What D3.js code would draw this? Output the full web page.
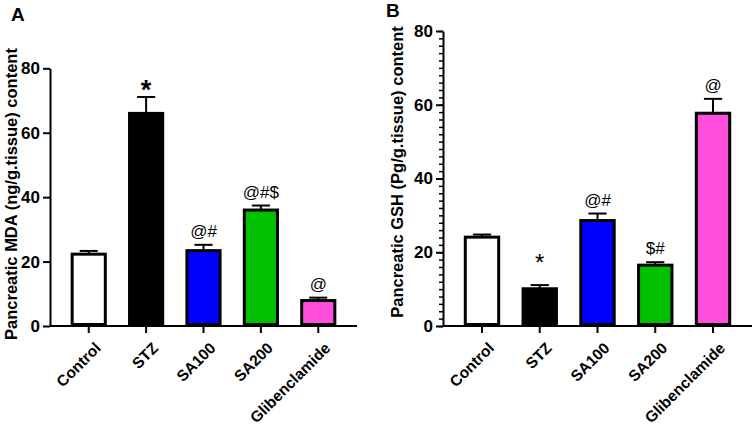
<!DOCTYPE html>
<html>
<head>
<meta charset="utf-8">
<script src="https://cdn.jsdelivr.net/npm/d3@7"></script>
<style>
  body { margin: 0; background: #fff; }
  svg { display: block; font-family: "Liberation Sans", Arial, sans-serif; }
</style>
</head>
<body>
<svg id="chart" width="754" height="426"></svg>
<script>
// groups shared by both panels
var groups = ["Control", "STZ", "SA100", "SA200", "Glibenclamide"];
var barColors = ["#ffffff", "#000000", "#0000ff", "#00c000", "#ff4fdc"];
var yTicks = [0, 20, 40, 60, 80];

// panel A: MDA
var mdaMean = [22.3, 66.0, 23.4, 36.0, 7.9];
var mdaSem = [1.0, 5.1, 1.8, 1.4, 0.9];
var mdaMarks = ["", "*", "@#", "@#$", "@"];

// panel B: GSH
var gshMean = [24.1, 10.1, 28.6, 16.5, 57.7];
var gshSem = [0.7, 1.0, 1.9, 0.8, 3.9];
var gshMarks = ["", "*", "@#", "$#", "@"];

var svg = d3.select("#chart");

function drawPanel(cfg) {
  var g = svg.append("g");

  var x = d3.scaleBand()
    .domain(groups)
    .range([cfg.left, cfg.right])
    .paddingInner(0.37)
    .paddingOuter(0.36);

  var y = d3.scaleLinear()
    .domain([0, 80])
    .range([cfg.bottom, cfg.top]);

  var rows = groups.map(function (d, i) {
    return { label: d, mean: cfg.mean[i], sem: cfg.sem[i], mark: cfg.marks[i], color: barColors[i] };
  });

  // error bars (upper only) drawn under the bar outline
  var err = g.append("g").attr("stroke", "#000").attr("stroke-width", 2);
  err.selectAll("line.stem")
    .data(rows)
    .join("line")
    .attr("x1", function (d) { return x(d.label) + x.bandwidth() / 2; })
    .attr("x2", function (d) { return x(d.label) + x.bandwidth() / 2; })
    .attr("y1", function (d) { return y(d.mean); })
    .attr("y2", function (d) { return y(d.mean + d.sem); });
  err.selectAll("line.cap")
    .data(rows)
    .join("line")
    .attr("x1", function (d) { return x(d.label) + x.bandwidth() * 0.25; })
    .attr("x2", function (d) { return x(d.label) + x.bandwidth() * 0.75; })
    .attr("y1", function (d) { return y(d.mean + d.sem); })
    .attr("y2", function (d) { return y(d.mean + d.sem); });

  // bars
  g.append("g")
    .selectAll("rect")
    .data(rows)
    .join("rect")
    .attr("x", function (d) { return x(d.label) + 1.5; })
    .attr("y", function (d) { return y(d.mean); })
    .attr("width", x.bandwidth() - 3)
    .attr("height", function (d) { return y(0) - y(d.mean) - 1.5; })
    .attr("fill", function (d) { return d.color; })
    .attr("stroke", "#000")
    .attr("stroke-width", 3);

  // significance marks; the asterisk glyph sits high, so push it down
  var isStar = function (d) { return d.mark === "*"; };
  g.append("g")
    .selectAll("text")
    .data(rows)
    .join("text")
    .attr("x", function (d) { return x(d.label) + x.bandwidth() / 2; })
    .attr("y", function (d) { return y(d.mean + d.sem) - 8; })
    .attr("text-anchor", "middle")
    .attr("font-size", function (d) { return isStar(d) ? (cfg.boldStar ? 27 : 24) : 17; })
    .attr("font-weight", function (d) { return isStar(d) && cfg.boldStar ? "bold" : "normal"; })
    .attr("dy", function (d) { return isStar(d) ? (cfg.boldStar ? 10 : -6) : 0; })
    .text(function (d) { return d.mark; });

  // minor ticks on y axis (panel B only)
  if (cfg.minor) {
    g.append("g")
      .attr("transform", "translate(" + cfg.left + ",0)")
      .call(d3.axisLeft(y).tickValues(d3.range(0, 81, 2)).tickSize(4).tickFormat(""))
      .call(function (a) { a.select(".domain").remove(); })
      .selectAll("line").attr("stroke-width", 1.5);
  }

  // y axis
  var ya = g.append("g")
    .attr("transform", "translate(" + cfg.left + ",0)")
    .call(d3.axisLeft(y).tickValues(yTicks).tickSize(7).tickSizeOuter(0).tickPadding(3));
  ya.select(".domain").attr("stroke-width", 2);
  ya.selectAll("line").attr("stroke-width", 2);
  ya.selectAll("text")
    .attr("font-size", 17)
    .attr("font-weight", "bold")
    .attr("font-family", "Liberation Sans, Arial, sans-serif")
    .attr("fill", "#000");

  // x axis
  var xa = g.append("g")
    .attr("transform", "translate(0," + cfg.bottom + ")")
    .call(d3.axisBottom(x).tickSize(7).tickSizeOuter(0));
  xa.select(".domain").attr("stroke-width", 2).attr("d", "M" + cfg.left + ",0H" + cfg.right);
  xa.selectAll("line").attr("stroke-width", 2);
  xa.selectAll("text")
    .attr("font-size", 15.5)
    .attr("font-weight", "bold")
    .attr("font-family", "Liberation Sans, Arial, sans-serif")
    .attr("fill", "#000")
    .attr("text-anchor", "end")
    .attr("dy", null)
    .attr("transform", "translate(6,16) rotate(-45)");

  // y title
  g.append("text")
    .attr("transform", "translate(" + cfg.titleX + "," + cfg.titleY + ") rotate(-90)")
    .attr("text-anchor", "middle")
    .attr("font-size", 16.5)
    .attr("font-weight", "bold")
    .text(cfg.title);

  // panel letter
  g.append("text")
    .attr("x", cfg.letterX)
    .attr("y", cfg.letterY)
    .attr("font-size", 19)
    .attr("font-weight", "bold")
    .text(cfg.letter);
}

drawPanel({
  mean: mdaMean, sem: mdaSem, marks: mdaMarks,
  left: 50, right: 357, top: 68.3, bottom: 326,
  title: "Pancreatic MDA (ng/g.tissue) content",
  titleX: 17, titleY: 194,
  letter: "A", letterX: 11, letterY: 21,
  boldStar: true, minor: false
});

drawPanel({
  mean: gshMean, sem: gshSem, marks: gshMarks,
  left: 443, right: 752, top: 31, bottom: 326,
  title: "Pancreatic GSH (Pg/g.tissue) content",
  titleX: 403, titleY: 172,
  letter: "B", letterX: 386, letterY: 17,
  boldStar: false, minor: true
});
</script>
</body>
</html>
